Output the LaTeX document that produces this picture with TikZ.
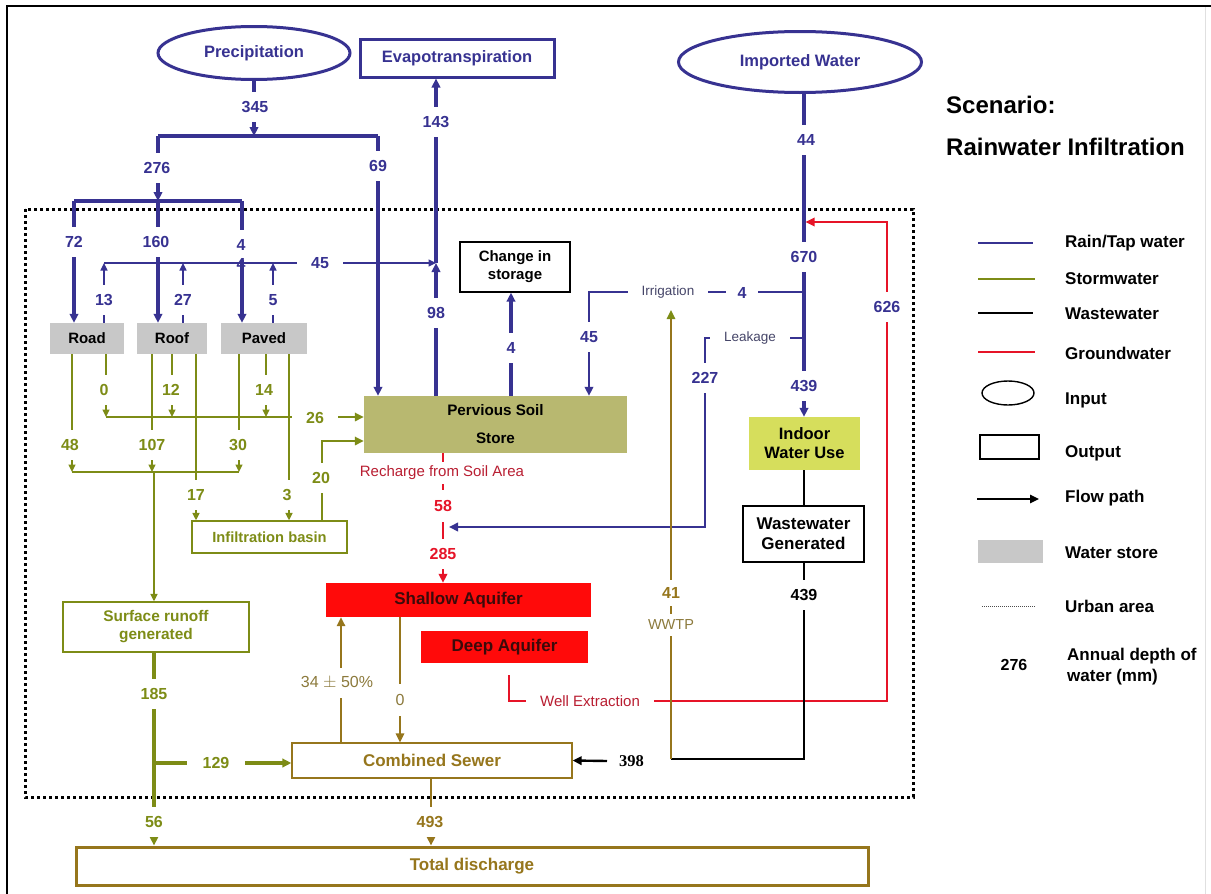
\documentclass[tikz,border=0pt]{standalone}
\usepackage{fontspec}
\setmainfont{Liberation Sans}
\newfontfamily\serifbf{Liberation Serif}
\usetikzlibrary{arrows.meta,shapes.geometric}
\definecolor{rain}{RGB}{55,50,145}
\definecolor{storm}{RGB}{125,140,22}
\definecolor{sewer}{RGB}{150,118,28}
\definecolor{sewertxt}{RGB}{140,122,60}
\definecolor{gw}{RGB}{230,20,40}
\definecolor{gwtxt}{RGB}{185,30,50}
\definecolor{pervfill}{RGB}{184,184,112}
\definecolor{indoorfill}{RGB}{214,222,92}
\definecolor{storegrey}{RGB}{200,200,200}
\definecolor{aqred}{RGB}{255,10,10}
\definecolor{aqtxt}{RGB}{60,10,10}
\definecolor{irrtxt}{RGB}{70,70,105}
\newcommand\fsz[2]{\fontsize{#1}{#2}\selectfont}
\begin{document}
\begin{tikzpicture}[x=1pt,y=-1pt,
 lab/.style={font=\fsz{16}{19}\bfseries, fill=white, inner xsep=1.5pt, inner ysep=9.5pt, text height=11.5pt, text depth=0pt},
 hlab/.style={lab, inner xsep=14pt, inner ysep=1pt},
 arr/.style={-{Triangle[length=9pt,width=8.5pt]}},
 sarr/.style={-{Triangle[length=7.5pt,width=7pt]}},
 rthick/.style={draw=rain, line width=3.2pt},
 rthin/.style={draw=rain, line width=2pt},
 rhair/.style={draw=rain, line width=1.1pt},
 sthin/.style={draw=storm, line width=1.6pt},
 sthick/.style={draw=storm, line width=3.2pt},
 bthin/.style={draw=sewer, line width=1.6pt},
 bthick/.style={draw=sewer, line width=2.8pt},
 gwl/.style={draw=gw, line width=1.8pt},
 wwl/.style={draw=black, line width=2.8pt},
 urban/.style={draw=black, line width=3pt, dash pattern=on 3pt off 3pt},
 bx/.style={rectangle, inner sep=0pt, align=center},
 ell/.style={ellipse, draw=rain, line width=3pt, inner sep=0pt, text=rain, font=\fsz{16.5}{19}\bfseries},
 legtxt/.style={anchor=west, font=\fsz{17}{21}\bfseries, inner sep=0pt, align=left},
]
\useasboundingbox (0,0) rectangle (1211,894);
\fill[white] (0,0) rectangle (1211,894);
% frame
\draw[line width=1.2pt] (7,894) -- (7,6) -- (1211,6);
\draw[black!12, line width=1pt] (1205,7) -- (1205,894);
% urban area
\draw[urban] (25,209) rectangle (913,797);

% ---------- nodes ----------
\node[ell, minimum width=192pt, minimum height=53pt] (precip) at (254,53) {Precipitation};
\node[bx, draw=rain, line width=3pt, minimum width=194pt, minimum height=38pt, text=rain, font=\fsz{16.5}{19}\bfseries] (et) at (457,58) {Evapotranspiration};
\node[ell, minimum width=243pt, minimum height=61pt] (imp) at (800,62) {Imported Water};
\node[anchor=west, inner sep=0pt, font=\fsz{24}{28}\bfseries] (sc1) at (946,105) {Scenario:};
\node[anchor=west, inner sep=0pt, font=\fsz{24}{28}\bfseries] (sc2) at (946,147) {Rainwater Infiltration};

\node[bx, fill=storegrey, minimum width=74pt, minimum height=31pt, font=\fsz{15}{18}\bfseries] (road) at (87,338.5) {Road};
\node[bx, fill=storegrey, minimum width=70pt, minimum height=31pt, font=\fsz{15}{18}\bfseries] (roof) at (172,338.5) {Roof};
\node[bx, fill=storegrey, minimum width=86pt, minimum height=31pt, font=\fsz{15}{18}\bfseries] (paved) at (264,338.5) {Paved};
\node[bx, draw=black, line width=1.3pt, minimum width=110pt, minimum height=50pt, font=\fsz{15}{18}\bfseries] (cis) at (515,267) {Change in\\storage};
\node[bx, fill=pervfill, minimum width=263pt, minimum height=57pt, font=\fsz{15.2}{28}\bfseries] (perv) at (495.5,424.5) {Pervious Soil\\Store};
\node[bx, fill=indoorfill, minimum width=111pt, minimum height=53pt, font=\fsz{16.5}{19}\bfseries] (indoor) at (804.5,443.5) {Indoor\\Water Use};
\node[bx, draw=black, line width=1.5pt, minimum width=121pt, minimum height=56pt, font=\fsz{17}{20}\bfseries] (ww) at (803.5,534) {Wastewater\\Generated};
\node[bx, fill=aqred, minimum width=265pt, minimum height=34pt, text=aqtxt, font=\fsz{17}{20}\bfseries] (shallow) at (458.5,600) {Shallow Aquifer};
\node[bx, fill=aqred, minimum width=167pt, minimum height=32pt, text=aqtxt, font=\fsz{17}{20}\bfseries] (deep) at (504.5,647) {Deep Aquifer};
\node[bx, draw=storm, line width=1.3pt, minimum width=155pt, minimum height=32pt, text=storm, font=\fsz{14.7}{18}\bfseries] (basin) at (269.5,537) {Infiltration basin};
\node[bx, draw=storm, line width=1.3pt, minimum width=186pt, minimum height=50pt, text=storm, font=\fsz{15.4}{18}\bfseries] (surf) at (156,627) {Surface runoff\\generated};
\node[bx, draw=sewer, line width=1.3pt, minimum width=280pt, minimum height=35pt, text=sewer, font=\fsz{17}{20}\bfseries] (comb) at (432,760.5) {Combined Sewer};
\node[bx, draw=sewer, line width=3pt, minimum width=792pt, minimum height=38pt, text=sewer, font=\fsz{17}{20}\bfseries] (total) at (472,866) {Total discharge};

% ---------- coordinates ----------
\coordinate (pA) at (254,136);
\coordinate (pL) at (158,136);
\coordinate (pR) at (378,136);
\coordinate (qL) at (74,201);
\coordinate (qM) at (158,201);
\coordinate (qR) at (242,201);
\coordinate (eL) at (104,263);
\coordinate (e2) at (183,263);
\coordinate (e3) at (273,263);
\coordinate (eJ) at (436,263);
\coordinate (cs) at (511,0);
\coordinate (iR) at (804,292);
\coordinate (iL) at (589,292);
\coordinate (lR) at (804,338);
\coordinate (lC) at (705,338);
\coordinate (lB) at (705,527);
\coordinate (lE) at (449,527);
\coordinate (mx) at (804,0);
\coordinate (w1) at (509,675);
\coordinate (w2) at (509,701);
\coordinate (w3) at (887,701);
\coordinate (w4) at (887,222);
\coordinate (rx) at (443,0);
\coordinate (sa) at (341,0);
\coordinate (sb) at (400,0);
\coordinate (k1) at (804,759);
\coordinate (k2) at (671,759);
\coordinate (k3) at (671,310);
\coordinate (h1) at (106,417);
\coordinate (h2L) at (72,472);
\coordinate (h2M) at (154,472);
\coordinate (h2R) at (239,472);
\coordinate (x48) at (72,0);
\coordinate (x0) at (106,0);
\coordinate (x107) at (152,0);
\coordinate (x12) at (172,0);
\coordinate (x17) at (196,0);
\coordinate (x30) at (239,0);
\coordinate (x14) at (266,0);
\coordinate (x3) at (289,0);
\coordinate (b0) at (322,0);
\coordinate (b1) at (322,441);
\coordinate (sx) at (154,0);
\coordinate (s129) at (154,763);
\coordinate (cx) at (431,0);

% ---------- rain / tap water ----------
\draw[rthick, arr] (precip.south) -- (pA);
\draw[rthick] (pL) -- (pR);
\draw[rthick, arr] (pL) -- (qM);
\draw[rthick, arr] (pR) -- (pR |- perv.north);
\draw[rthick] (qL) -- (qR);
\draw[rthick, arr] (qL) -- (qL |- road.north);
\draw[rthick, arr] (qM) -- (qM |- roof.north);
\draw[rthick, arr] (qR) -- (qR |- paved.north);
\draw[rhair, sarr] (eL) -- (eJ);
\draw[rhair, sarr] (eL |- road.north) -- (eL);
\draw[rhair, sarr] (e2 |- roof.north) -- (e2);
\draw[rhair, sarr] (e3 |- paved.north) -- (e3);
\draw[rthick, arr] (eJ |- perv.north) -- (eJ);
\draw[rthick, arr] (eJ) -- (eJ |- et.south);
\draw[rthick, arr] (cs |- perv.north) -- (cs |- cis.south);
\draw[rthin, arr] (iR) -- (iL) -- (iL |- perv.north);
\draw[rthin, arr] (lR) -- (lC) -- (lB) -- (lE);
\draw[rthick, arr] (mx |- imp.south) -- (mx |- indoor.north);

% ---------- groundwater ----------
\draw[gwl, arr, shorten >=1.6pt] (w1) -- (w2) -- (w3) -- (w4) -- (w4 -| mx);
\draw[gwl, arr] (rx |- perv.south) -- (rx |- shallow.north);
\draw[bthin, arr] (sa |- comb.north) -- (sa |- shallow.south);
\draw[bthin, arr] (sb |- shallow.south) -- (sb |- comb.north);

% ---------- wastewater ----------
\draw[wwl] (mx |- indoor.south) -- (mx |- ww.north);
\draw[wwl] (mx |- ww.south) -- (k1) -- (k2);
\draw[draw=sewer, line width=1.6pt, -{Triangle[length=9pt,width=8.5pt,color=storm]}] (k2) -- (k3);

% ---------- stormwater ----------
\draw[sthin, sarr] (x48 |- road.south) -- (x48 |- h2L);
\draw[sthin, sarr] (x0 |- road.south) -- (x0 |- h1);
\draw[sthin, sarr] (x107 |- roof.south) -- (x107 |- h2L);
\draw[sthin, sarr] (x12 |- roof.south) -- (x12 |- h1);
\draw[sthin, sarr] (x17 |- roof.south) -- (x17 |- basin.north);
\draw[sthin, sarr] (x30 |- paved.south) -- (x30 |- h2L);
\draw[sthin, sarr] (x14 |- paved.south) -- (x14 |- h1);
\draw[sthin, sarr] (x3 |- paved.south) -- (x3 |- basin.north);
\draw[sthin, arr] (h1) -- (h1 -| perv.west);
\draw[sthin] (h2L) -- (h2R);
\draw[sthin, sarr] (h2M) -- (h2M |- surf.north);
\draw[sthin, arr] (b0 |- basin.north) -- (b1) -- (b1 -| perv.west);
\draw[sthick, arr] (sx |- surf.south) -- (sx |- total.north);
\draw[sthick, arr] (s129) -- (s129 -| comb.west);
\draw[bthick, arr] (cx |- comb.south) -- (cx |- total.north);

% ---------- labels ----------
\node[lab, text=rain] (l345) at (255,107) {345};
\node[lab, text=rain] (l276) at (157,168) {276};
\node[lab, text=rain] (l69) at (378,166) {69};
\node[lab, text=rain] (l72) at (74,242) {72};
\node[lab, text=rain] (l160) at (156,242) {160};
\node[lab, text=rain] (l4a) at (241,245) {4};
\node[font=\fsz{16}{19}\bfseries, text=rain, inner sep=0pt] (l4b) at (241,264) {4};
\node[lab, text=rain] (l13) at (104,300) {13};
\node[lab, text=rain] (l27) at (183,300) {27};
\node[lab, text=rain] (l5) at (273,300) {5};
\node[hlab, text=rain] (l45a) at (320,263) {45};
\node[lab, text=rain] (l98) at (436,313) {98};
\node[lab, text=rain] (l143) at (436,122) {143};
\node[lab, text=rain] (l4c) at (511,348) {4};
\node[lab, text=rain] (l45b) at (589,337) {45};
\node[hlab, text=rain, inner xsep=12pt] (l4d) at (742,293) {4};
\node[fill=white, inner xsep=14pt, inner ysep=1pt, text=irrtxt, font=\fsz{13.5}{16}] (lirr) at (668,292) {Irrigation};
\node[fill=white, inner xsep=14pt, inner ysep=1pt, text=irrtxt, font=\fsz{13.5}{16}] (lleak) at (750,338) {Leakage};
\node[lab, text=rain] (l227) at (705,378) {227};
\node[lab, text=rain] (l44) at (806,140) {44};
\node[lab, text=rain] (l670) at (804,257) {670};
\node[lab, text=rain] (l439a) at (804,386) {439};
\node[lab, text=rain] (l626) at (887,307) {626};
\node[fill=white, inner xsep=14pt, inner ysep=2pt, text=gwtxt, font=\fsz{15}{18}] (lwell) at (590,701) {Well Extraction};
\node[fill=white, inner xsep=3pt, inner ysep=4pt, text=gwtxt, font=\fsz{15}{18}] (lrech) at (442,473) {Recharge from Soil Area};
\node[lab, text=gw, inner ysep=10pt] (l58) at (443,506) {58};
\node[lab, text=gw] (l285) at (443,554) {285};
\node[fill=white, inner xsep=2pt, inner ysep=9pt, text=sewertxt, font=\fsz{16}{19}] (l34) at (337,683) {34 $\pm$ 50\%};
\node[fill=white, inner xsep=2pt, inner ysep=10pt, text=sewertxt, font=\fsz{16}{19}] (l0b) at (400,700) {0};
\node[lab, text=black] (l439b) at (804,595) {439};
\node[lab, text=sewer, inner ysep=7.5pt] (l41) at (671,593) {41};
\node[fill=white, inner xsep=2pt, inner ysep=6pt, text=sewertxt, font=\fsz{14.5}{17}] (lwwtp) at (671,625) {WWTP};
\node[anchor=west, inner sep=0pt, font=\fsz{16.5}{19}\serifbf\bfseries] (l398) at (619,761) {398};
\draw[black, line width=2.4pt, arr] ([xshift=-12pt]l398.west) -- (comb.east);
% stormwater labels
\node[lab, text=storm] (l48) at (70,445) {48};
\node[lab, text=storm] (l0a) at (104,390) {0};
\node[lab, text=storm] (l107) at (152,445) {107};
\node[lab, text=storm] (l12) at (171,390) {12};
\node[lab, text=storm] (l17) at (196,495) {17};
\node[lab, text=storm] (l30) at (238,445) {30};
\node[lab, text=storm] (l14) at (264,390) {14};
\node[lab, text=storm] (l3) at (287,495) {3};
\node[lab, text=storm] (l20) at (321,478) {20};
\node[hlab, text=storm] (l26) at (315,418) {26};
\node[lab, text=storm] (l185) at (154,694) {185};
\node[lab, text=storm] (l56) at (154,822) {56};
\node[hlab, text=storm, inner xsep=16pt] (l129) at (216,763) {129};
\node[lab, text=sewer] (l493) at (430,822) {493};

% ---------- legend ----------
\coordinate (lg1) at (978,243);
\coordinate (lg2) at (978,279);
\coordinate (lg3) at (978,313);
\coordinate (lg4) at (978,352);
\draw[draw=rain, line width=1.8pt] (lg1) -- ++(55,0);
\draw[draw=storm, line width=1.8pt] (lg2) -- ++(57,0);
\draw[draw=black, line width=1.8pt] (lg3) -- ++(55,0);
\draw[draw=gw, line width=1.8pt] (lg4) -- ++(57,0);
\node[legtxt] (t1) at (1065,243) {Rain/Tap water};
\node[legtxt] (t2) at (1065,279) {Stormwater};
\node[legtxt] (t3) at (1065,314) {Wastewater};
\node[legtxt] (t4) at (1065,353) {Groundwater};
\node[ellipse, draw=black, line width=1.4pt, minimum width=52pt, minimum height=24pt, inner sep=0pt] (legin) at (1008,393) {};
\node[legtxt] (t5) at (1065,400) {Input};
\node[rectangle, draw=black, line width=1.4pt, minimum width=59pt, minimum height=24pt, inner sep=0pt] (legout) at (1009.5,447) {};
\node[legtxt] (t6) at (1065,453) {Output};
\coordinate (lgf) at (977,499);
\draw[black, line width=1.4pt, arr] (lgf) -- ++(62,0);
\node[legtxt] (t7) at (1065,498) {Flow path};
\node[rectangle, fill=storegrey, minimum width=65pt, minimum height=23pt, inner sep=0pt] (legst) at (1010.5,551.5) {};
\node[legtxt] (t8) at (1065,553) {Water store};
\coordinate (lgu) at (982,606);
\draw[black!70, line width=1pt, dash pattern=on 1pt off 1pt] (lgu) -- ++(54,0);
\node[legtxt] (t9) at (1065,606) {Urban area};
\node[font=\fsz{16}{19}\bfseries, inner sep=0pt] (t276) at (1014,665) {276};
\node[legtxt, font=\fsz{17}{21}\bfseries] (t10) at (1067,667) {Annual depth of\\water (mm)};
\end{tikzpicture}
\end{document}
